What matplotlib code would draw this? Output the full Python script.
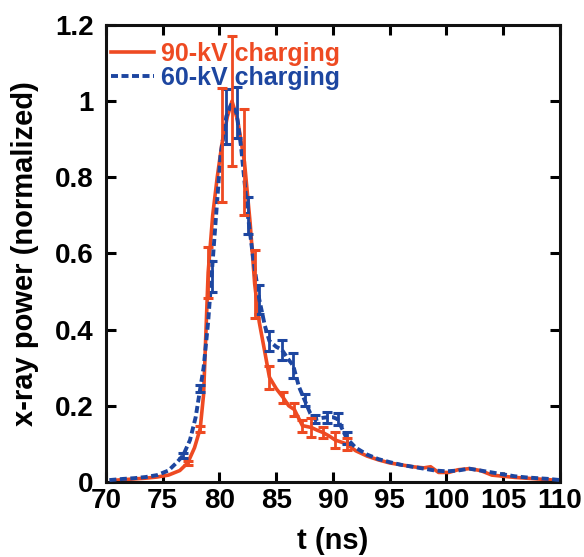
import matplotlib
matplotlib.use("Agg")
import matplotlib.pyplot as plt
from matplotlib.ticker import FormatStrFormatter

plt.rcParams["font.family"] = ["Liberation Sans", "DejaVu Sans"]
plt.rcParams["font.weight"] = "bold"

ORANGE = "#EE4A22"
BLUE = "#1D46A0"

# 90-kV charging: trace
t90 = [70.5, 71.5, 72.5, 73.5, 74.5, 75.5, 76.5, 77.2, 77.8, 78.3, 78.6,
       79.0, 79.4, 79.8, 80.2, 80.7, 81.1, 81.6, 82.2, 82.7, 83.1, 83.5,
       84.0, 84.4, 85.0, 85.6, 86.1, 86.6, 87.3, 88.1, 88.6, 89.1, 89.7,
       90.2, 91.2, 92.0, 93.0, 94.0, 95.0, 96.0, 97.0, 98.0, 98.6, 99.3,
       100.2, 101.0, 102.0, 103.0, 104.0, 105.0, 106.0, 107.0, 108.0,
       109.0, 110.0]
p90 = [0.004, 0.006, 0.008, 0.010, 0.013, 0.018, 0.030, 0.050, 0.090,
       0.140, 0.230, 0.550, 0.700, 0.800, 0.885, 0.960, 1.000, 0.950,
       0.840, 0.680, 0.520, 0.420, 0.340, 0.275, 0.245, 0.222, 0.200,
       0.190, 0.148, 0.143, 0.136, 0.130, 0.120, 0.110, 0.100, 0.082,
       0.068, 0.058, 0.050, 0.045, 0.040, 0.037, 0.040, 0.025, 0.025,
       0.032, 0.035, 0.030, 0.018, 0.015, 0.012, 0.010, 0.008, 0.006,
       0.004]

# 90-kV charging: error bars
te90 = [77.2, 78.3, 79.0, 80.2, 81.1, 82.2, 83.1, 84.4, 85.6, 86.6, 87.3,
        88.1, 89.1, 90.2, 91.2]
pe90 = [0.050, 0.140, 0.550, 0.885, 1.000, 0.840, 0.520, 0.275, 0.222,
        0.190, 0.148, 0.143, 0.130, 0.110, 0.100]
ee90 = [0.005, 0.008, 0.066, 0.150, 0.170, 0.140, 0.090, 0.030, 0.015,
        0.018, 0.016, 0.025, 0.014, 0.020, 0.016]

# 60-kV charging: trace
t60 = [70.3, 71.5, 72.5, 73.5, 74.5, 75.5, 76.2, 76.8, 77.4, 77.9, 78.3,
       78.6, 79.0, 79.3, 79.7, 80.1, 80.6, 81.0, 81.5, 81.9, 82.5, 83.0,
       83.5, 84.0, 84.4, 85.0, 85.5, 86.0, 86.5, 87.0, 87.5, 88.0, 88.4,
       89.0, 89.5, 90.0, 90.4, 91.2, 92.0, 93.0, 94.0, 95.0, 96.0, 97.0,
       98.0, 99.0, 100.0, 101.0, 102.0, 103.0, 104.0, 105.0, 106.0,
       107.0, 108.0, 109.0, 110.0]
p60 = [0.005, 0.008, 0.010, 0.013, 0.018, 0.030, 0.050, 0.070, 0.110,
       0.170, 0.245, 0.300, 0.420, 0.540, 0.700, 0.860, 0.960, 0.990,
       0.970, 0.880, 0.700, 0.580, 0.480, 0.410, 0.370, 0.355, 0.347,
       0.325, 0.305, 0.250, 0.215, 0.180, 0.165, 0.168, 0.170, 0.170,
       0.165, 0.115, 0.090, 0.072, 0.060, 0.052, 0.045, 0.040, 0.035,
       0.030, 0.028, 0.030, 0.035, 0.030, 0.025, 0.020, 0.015, 0.012,
       0.010, 0.008, 0.005]

# 60-kV charging: error bars
te60 = [76.8, 78.3, 79.3, 80.6, 81.5, 82.5, 83.5, 84.4, 85.5, 86.5, 87.5,
        88.4, 89.5, 90.4, 91.2]
pe60 = [0.070, 0.245, 0.540, 0.960, 0.970, 0.700, 0.480, 0.370, 0.347,
        0.305, 0.215, 0.165, 0.170, 0.165, 0.115]
ee60 = [0.006, 0.010, 0.040, 0.072, 0.068, 0.048, 0.038, 0.027, 0.027,
        0.033, 0.015, 0.011, 0.015, 0.015, 0.015]

fig = plt.figure(figsize=(5.84, 5.57), dpi=100)
ax = fig.add_axes([0.1815, 0.1347, 0.7774, 0.8205])

ax.plot(t90, p90, color=ORANGE, lw=2.6, label="90-kV charging", zorder=2)
ax.plot(t60, p60, color=BLUE, lw=2.8, ls=(0, (1.8, 0.9)),
        label="60-kV charging", zorder=3)
ax.errorbar(te60, pe60, yerr=ee60, fmt="none", ecolor=BLUE, elinewidth=2,
            capsize=3.5, capthick=2.2, zorder=4)
ax.errorbar(te90, pe90, yerr=ee90, fmt="none", ecolor=ORANGE, elinewidth=2,
            capsize=3.5, capthick=2.2, zorder=5)

ax.set_xlim(70, 110)
ax.set_ylim(0, 1.2)
ax.set_xticks(range(70, 111, 5))
ax.set_yticks([0, 0.2, 0.4, 0.6, 0.8, 1.0, 1.2])
ax.yaxis.set_major_formatter(FormatStrFormatter("%g"))
ax.tick_params(direction="in", length=7, width=2.2, labelsize=20,
               top=True, right=True)
ax.tick_params(axis="y", pad=9)
ax.tick_params(axis="x", pad=4)
for s in ax.spines.values():
    s.set_linewidth(2.2)
    s.set_color("#111111")

ax.set_xlabel("t (ns)", fontsize=21, fontweight="bold", labelpad=10)
ax.set_ylabel("x-ray power (normalized)", fontsize=21, fontweight="bold",
              labelpad=11)

leg = ax.legend(loc="upper left", bbox_to_anchor=(0.012, 0.963),
                frameon=False, fontsize=18, handlelength=1.7,
                handletextpad=0.28, labelspacing=0.0, borderaxespad=0,
                borderpad=0, labelcolor="linecolor")

fig.savefig("out.png", dpi=100)
